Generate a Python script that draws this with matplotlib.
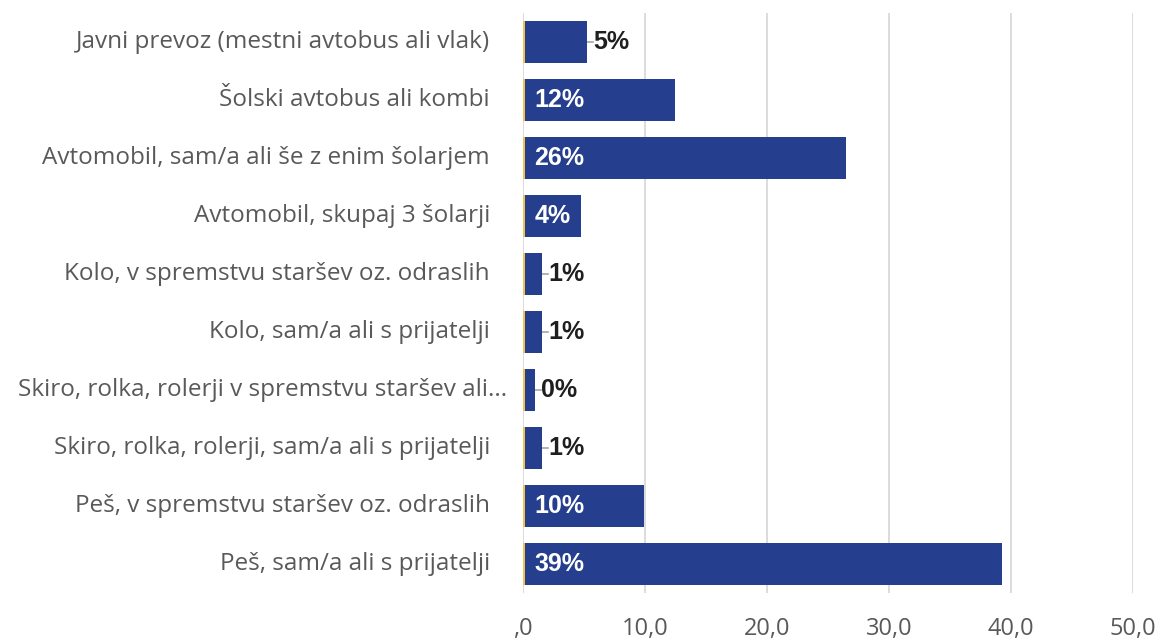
import matplotlib.pyplot as plt
import numpy as np

categories = [
    'Javni prevoz (mestni avtobus ali vlak)',
    'Šolski avtobus ali kombi',
    'Avtomobil, sam/a ali še z enim šolarjem',
    'Avtomobil, skupaj 3 šolarji',
    'Kolo, v spremstvu staršev oz. odraslih',
    'Kolo, sam/a ali s prijatelji',
    'Skiro, rolka, rolerji v spremstvu staršev ali...',
    'Skiro, rolka, rolerji, sam/a ali s prijatelji',
    'Peš, v spremstvu staršev oz. odraslih',
    'Peš, sam/a ali s prijatelji',
]
base = [0.15] * 10
values = [5.1, 12.3, 26.3, 4.6, 1.4, 1.4, 0.8, 1.4, 9.8, 39.1]
labels = ['5%', '12%', '26%', '4%', '1%', '1%', '0%', '1%', '10%', '39%']
inside = [False, True, True, True, False, False, False, False, True, True]

xticks = [0, 10, 20, 30, 40, 50]
xticklabels = [',0', '10,0', '20,0', '30,0', '40,0', '50,0']

blue = '#253F8E'
yellow = '#F2C14E'
gray = '#595959'

fig = plt.figure(figsize=(11.63, 6.42), dpi=100)
ax = fig.add_axes([523 / 1163, 1 - 593 / 642, (1133 - 523) / 1163, 580 / 642])

y = np.arange(len(categories))
ax.barh(y, base, height=0.72, color=yellow, zorder=2)
ax.barh(y, values, left=base, height=0.72, color=blue, zorder=2)

for i in range(len(categories)):
    end = base[i] + values[i]
    if inside[i]:
        ax.text(base[i] + 0.8, y[i], labels[i], color='white', fontweight='bold',
                fontsize=18, family='Liberation Sans', va='center', ha='left', zorder=3)
    else:
        ax.plot([end, end + 0.5], [y[i], y[i]], color='#A6A6A6', lw=1.2, zorder=1)
        ax.text(end + 0.5, y[i], labels[i], color='#1F1F1F', fontweight='bold',
                fontsize=18, family='Liberation Sans', va='center', ha='left', zorder=3)

# category labels drawn by hand; the truncated one sits further right as in Excel
for i, cat in enumerate(categories):
    off = -33
    if cat.endswith('...'):
        off = -16
    ax.annotate(cat, xy=(0, y[i]), xycoords=('axes fraction', 'data'),
                xytext=(off, 0), textcoords='offset pixels',
                ha='right', va='center', fontsize=17.5, color=gray, family='Open Sans')

ax.set_xlim(0, 50)
ax.set_ylim(len(categories) - 0.5, -0.5)
ax.set_yticks(y)
ax.set_yticklabels([])
ax.set_xticks(xticks)
ax.set_xticklabels(xticklabels, fontsize=17, color=gray, family='Open Sans')
ax.tick_params(axis='both', length=0)
ax.tick_params(axis='x', pad=17)
ax.grid(axis='x', color='#D9D9D9', lw=1.3, zorder=0)
for s in ax.spines.values():
    s.set_visible(False)

fig.savefig('out.png', dpi=100)
